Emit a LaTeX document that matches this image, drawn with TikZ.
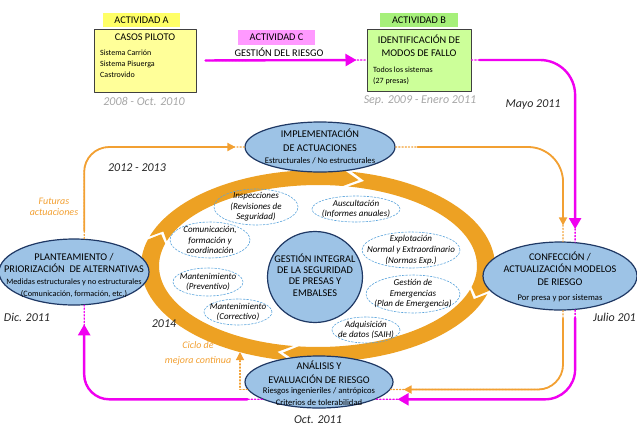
\documentclass[tikz,border=0pt]{standalone}
\usepackage{fontspec}
\setmainfont{Carlito}
\usetikzlibrary{arrows.meta}
\usetikzlibrary{shapes.geometric}
\definecolor{magcol}{RGB}{240,0,240}
\definecolor{orcol}{RGB}{242,160,50}
\definecolor{ringcol}{RGB}{237,161,35}
\definecolor{ellfill}{RGB}{157,195,230}
\definecolor{elldraw}{RGB}{31,56,100}
\definecolor{dashblue}{RGB}{91,164,220}
\definecolor{boxdraw}{RGB}{64,64,64}
\definecolor{boxyel}{RGB}{255,255,153}
\definecolor{labyel}{RGB}{255,255,102}
\definecolor{boxgrn}{RGB}{204,255,153}
\definecolor{labgrn}{RGB}{166,240,122}
\definecolor{labpink}{RGB}{255,153,255}
\definecolor{dategray}{RGB}{166,166,166}

\begin{document}
\begin{tikzpicture}[line cap=round,line join=round,>={Triangle[length=8pt,width=8pt]},x=1pt,y=-1pt,
  bigell/.style={ellipse,draw=elldraw,fill=ellfill,line width=1.2pt,inner sep=0pt},
  smallell/.style={ellipse,draw=dashblue,dash pattern=on 2pt off 1.5pt,line width=0.6pt,inner sep=0pt},
  actbox/.style={rectangle,draw=boxdraw,line width=1pt,inner sep=0pt},
  actlab/.style={rectangle,inner sep=0pt,font=\fontsize{10.3}{12}\selectfont},
  tit/.style={align=center,inner sep=0pt,font=\fontsize{10.3}{12.5}\selectfont},
  sub/.style={align=center,inner sep=0pt,font=\fontsize{8.6}{12}\selectfont},
  lst/.style={align=left,inner sep=0pt,anchor=west,font=\fontsize{8}{10.5}\selectfont},
  itl/.style={align=center,inner sep=0pt,font=\fontsize{9}{10.6}\selectfont\itshape},
  date/.style={inner sep=0pt,text=black!85,font=\fontsize{12}{14}\selectfont\itshape},
  note/.style={align=center,inner sep=0pt,text=orcol,font=\fontsize{10}{11}\selectfont\itshape},
  magc/.style={draw=magcol,line width=2.4pt,>={Triangle[length=11pt,width=12pt]}},
  magd/.style={draw=magcol,line width=1.3pt,dotted},
  orl/.style={draw=orcol,line width=1.8pt},
  ord/.style={draw=orcol,line width=1.2pt,dotted}]
% Draw region settings
\useasboundingbox (0,0) rectangle (637,426);
\clip (0,0) rectangle (637,426);
% Ring of the cycle
\foreach \a/\b in {281/377,17/99,99/198,198/281}
  \fill[ringcol] plot[domain=\a:\b-2,samples=40] ({318+177*cos(\x)},{266+96*sin(\x)})
    -- ({318+168*cos(\b+3)},{266+88.5*sin(\b+3)})
    -- plot[domain=\b-2:\a,samples=40] ({318+159*cos(\x)},{266+81*sin(\x)})
    -- ({318+168*cos(\a+5)},{266+88.5*sin(\a+5)}) -- cycle;
% Activities
\node[actbox,fill=boxyel,minimum width=102,minimum height=63] (boxA) at (145,60.5) {};
\node[actlab,fill=labyel,minimum width=77,minimum height=14] (labA) at (141.5,20) {ACTIVIDAD A};
\node[tit] (titA) at (145,37) {CASOS PILOTO};
\node[lst,font=\fontsize{8}{11}\selectfont] (lstA) at (100,64) {Sistema Carrión\\Sistema Pisuerga\\Castrovido};
\node[date,text=dategray] (dateA) at (144,101) {2008 - Oct. 2010};
\node[actbox,fill=boxgrn,minimum width=104,minimum height=62] (boxB) at (419,60) {};
\node[actlab,fill=labgrn,minimum width=78,minimum height=14] (labB) at (419,20) {ACTIVIDAD B};
\node[tit,font=\fontsize{10.3}{13}\selectfont] (titB) at (419,45.5) {IDENTIFICACIÓN DE\\MODOS DE FALLO};
\node[lst] (lstB) at (373,76) {Todos los sistemas\\(27 presas)};
\node[date,text=dategray] (dateB) at (420,101) {Sep. 2009 - Enero 2011};
\node[actlab,fill=labpink,minimum width=77,minimum height=15] (labC) at (276.5,37.5) {ACTIVIDAD C};
\node[tit] (titC) at (279,52) {GESTIÓN DEL RIESGO};
% Stages
\node[bigell,minimum width=150,minimum height=50] (impl) at (320,147) {};
\node[tit,font=\fontsize{10.3}{14}\selectfont] (impltit) at (320,140) {IMPLEMENTACIÓN\\DE ACTUACIONES};
\node[sub] (implsub) at (320,161) {Estructurales / No estructurales};
\node[bigell,minimum width=154,minimum height=68] (conf) at (560,276) {};
\node[tit] (conftit) at (560,268.5) {CONFECCIÓN /\\ACTUALIZACIÓN MODELOS\\DE RIESGO};
\node[sub] (confsub) at (560,298) {Por presa y por sistemas};
\node[bigell,minimum width=148,minimum height=52] (anal) at (319,382) {};
\node[tit,font=\fontsize{10.3}{14}\selectfont] (analtit) at (319,372.5) {ANÁLISIS Y\\EVALUACIÓN DE RIESGO};
\node[sub,font=\fontsize{8.6}{11.5}\selectfont] (analsub) at (319,396.5) {Riesgos ingenieriles / antrópicos\\Criterios de tolerabilidad};
\node[bigell,minimum width=150,minimum height=66] (plant) at (74,272) {};
\node[tit,font=\fontsize{10.3}{12}\selectfont] (planttit) at (74,263) {PLANTEAMIENTO /\\PRIORIZACIÓN\ \ DE ALTERNATIVAS};
\node[sub,font=\fontsize{8.2}{12.5}\selectfont] (plantsub) at (74,288) {Medidas estructurales y no estructurales\\(Comunicación, formación, etc.)};
% Centre
\node[bigell,minimum width=95,minimum height=91] (gest) at (315,277) {};
\node[tit,font=\fontsize{10.3}{11.3}\selectfont] (gesttxt) at (315,275) {GESTIÓN INTEGRAL\\DE LA SEGURIDAD\\DE PRESAS Y\\EMBALSES};
\node[smallell,minimum width=84,minimum height=36] (insp) at (256,207) {};
\node[itl] at (insp) {Inspecciones\\(Revisiones de\\Seguridad)};
\node[smallell,minimum width=88,minimum height=26] (ausc) at (356,209) {};
\node[itl] at (ausc) {Auscultación\\(Informes anuales)};
\node[smallell,minimum width=80,minimum height=36] (comu) at (210,240) {};
\node[itl] at (comu) {Comunicación,\\formación y\\coordinación};
\node[smallell,minimum width=98,minimum height=36] (explo) at (411,250) {};
\node[itl] at (explo) {Explotación\\Normal y Extraordinario\\(Normas Exp.)};
\node[smallell,minimum width=70,minimum height=28] (mprev) at (208,282) {};
\node[itl] at (mprev) {Mantenimiento\\(Preventivo)};
\node[smallell,minimum width=94,minimum height=38] (emer) at (413,294) {};
\node[itl] at (emer) {Gestión de\\Emergencias\\(Plan de Emergencia)};
\node[smallell,minimum width=68,minimum height=26] (mcorr) at (238,312) {};
\node[itl] at (mcorr) {Mantenimiento\\(Correctivo)};
\node[smallell,minimum width=68,minimum height=26] (adq) at (366,330) {};
\node[itl] at (adq) {Adquisición\\de datos (SAIH)};
% Dates and notes
\node[date] (dmay) at (533,105) {Mayo 2011};
\node[date] (d1213) at (137,168) {2012 - 2013};
\node[date] (ddic) at (27,317) {Dic. 2011};
\node[date] (d14) at (164,324) {2014};
\node[date] (doct) at (318,420) {Oct. 2011};
\node[date,anchor=west] (djul) at (593,317) {Julio 2011};
\node[note] (fut) at (54,207) {Futuras\\actuaciones};
\node[note,font=\fontsize{10}{15}\selectfont\itshape] (cic) at (198,353.5) {Ciclo de\\mejora continua};
% Activity flow
\draw[magd,shorten <=9] (boxA.east) -- (boxB.west);
\draw[magc,->,shorten <=9,shorten >=10] (boxA.east) -- (boxB.west);
\draw[magd,rounded corners=35] (boxB.east) -| (conf.66);
\draw[magc,->,rounded corners=35,shorten <=8,shorten >=13] (boxB.east) -| (conf.66);
% Cycle connectors
\draw[ord,rounded corners=35] (impl.east) -| (conf.85);
\draw[orl,->,rounded corners=35,shorten <=22,shorten >=16] (impl.east) -| (conf.85);
\draw[ord,rounded corners=25] (conf.-85) |- (anal.-6);
\draw[orl,->,rounded corners=25,shorten <=8,shorten >=13] (conf.-85) |- (anal.-6);
\draw[magd,rounded corners=30] (conf.-66) |- (anal.-17);
\draw[magc,->,rounded corners=30,shorten <=8,shorten >=22] (conf.-66) |- (anal.-17);
\draw[magd,rounded corners=25] (anal.197) -| (plant.-73);
\draw[magc,->,rounded corners=25,shorten <=15,shorten >=19] (anal.197) -| (plant.-73);
\draw[ord,rounded corners=25] (plant.73) |- (impl.west);
\draw[orl,->,rounded corners=25,shorten <=8,shorten >=9] (plant.73) |- (impl.west);
\coordinate (cyc) at (240,352);
\draw[ord,->] (anal.186) -| (cyc);
\end{tikzpicture}
\end{document}
